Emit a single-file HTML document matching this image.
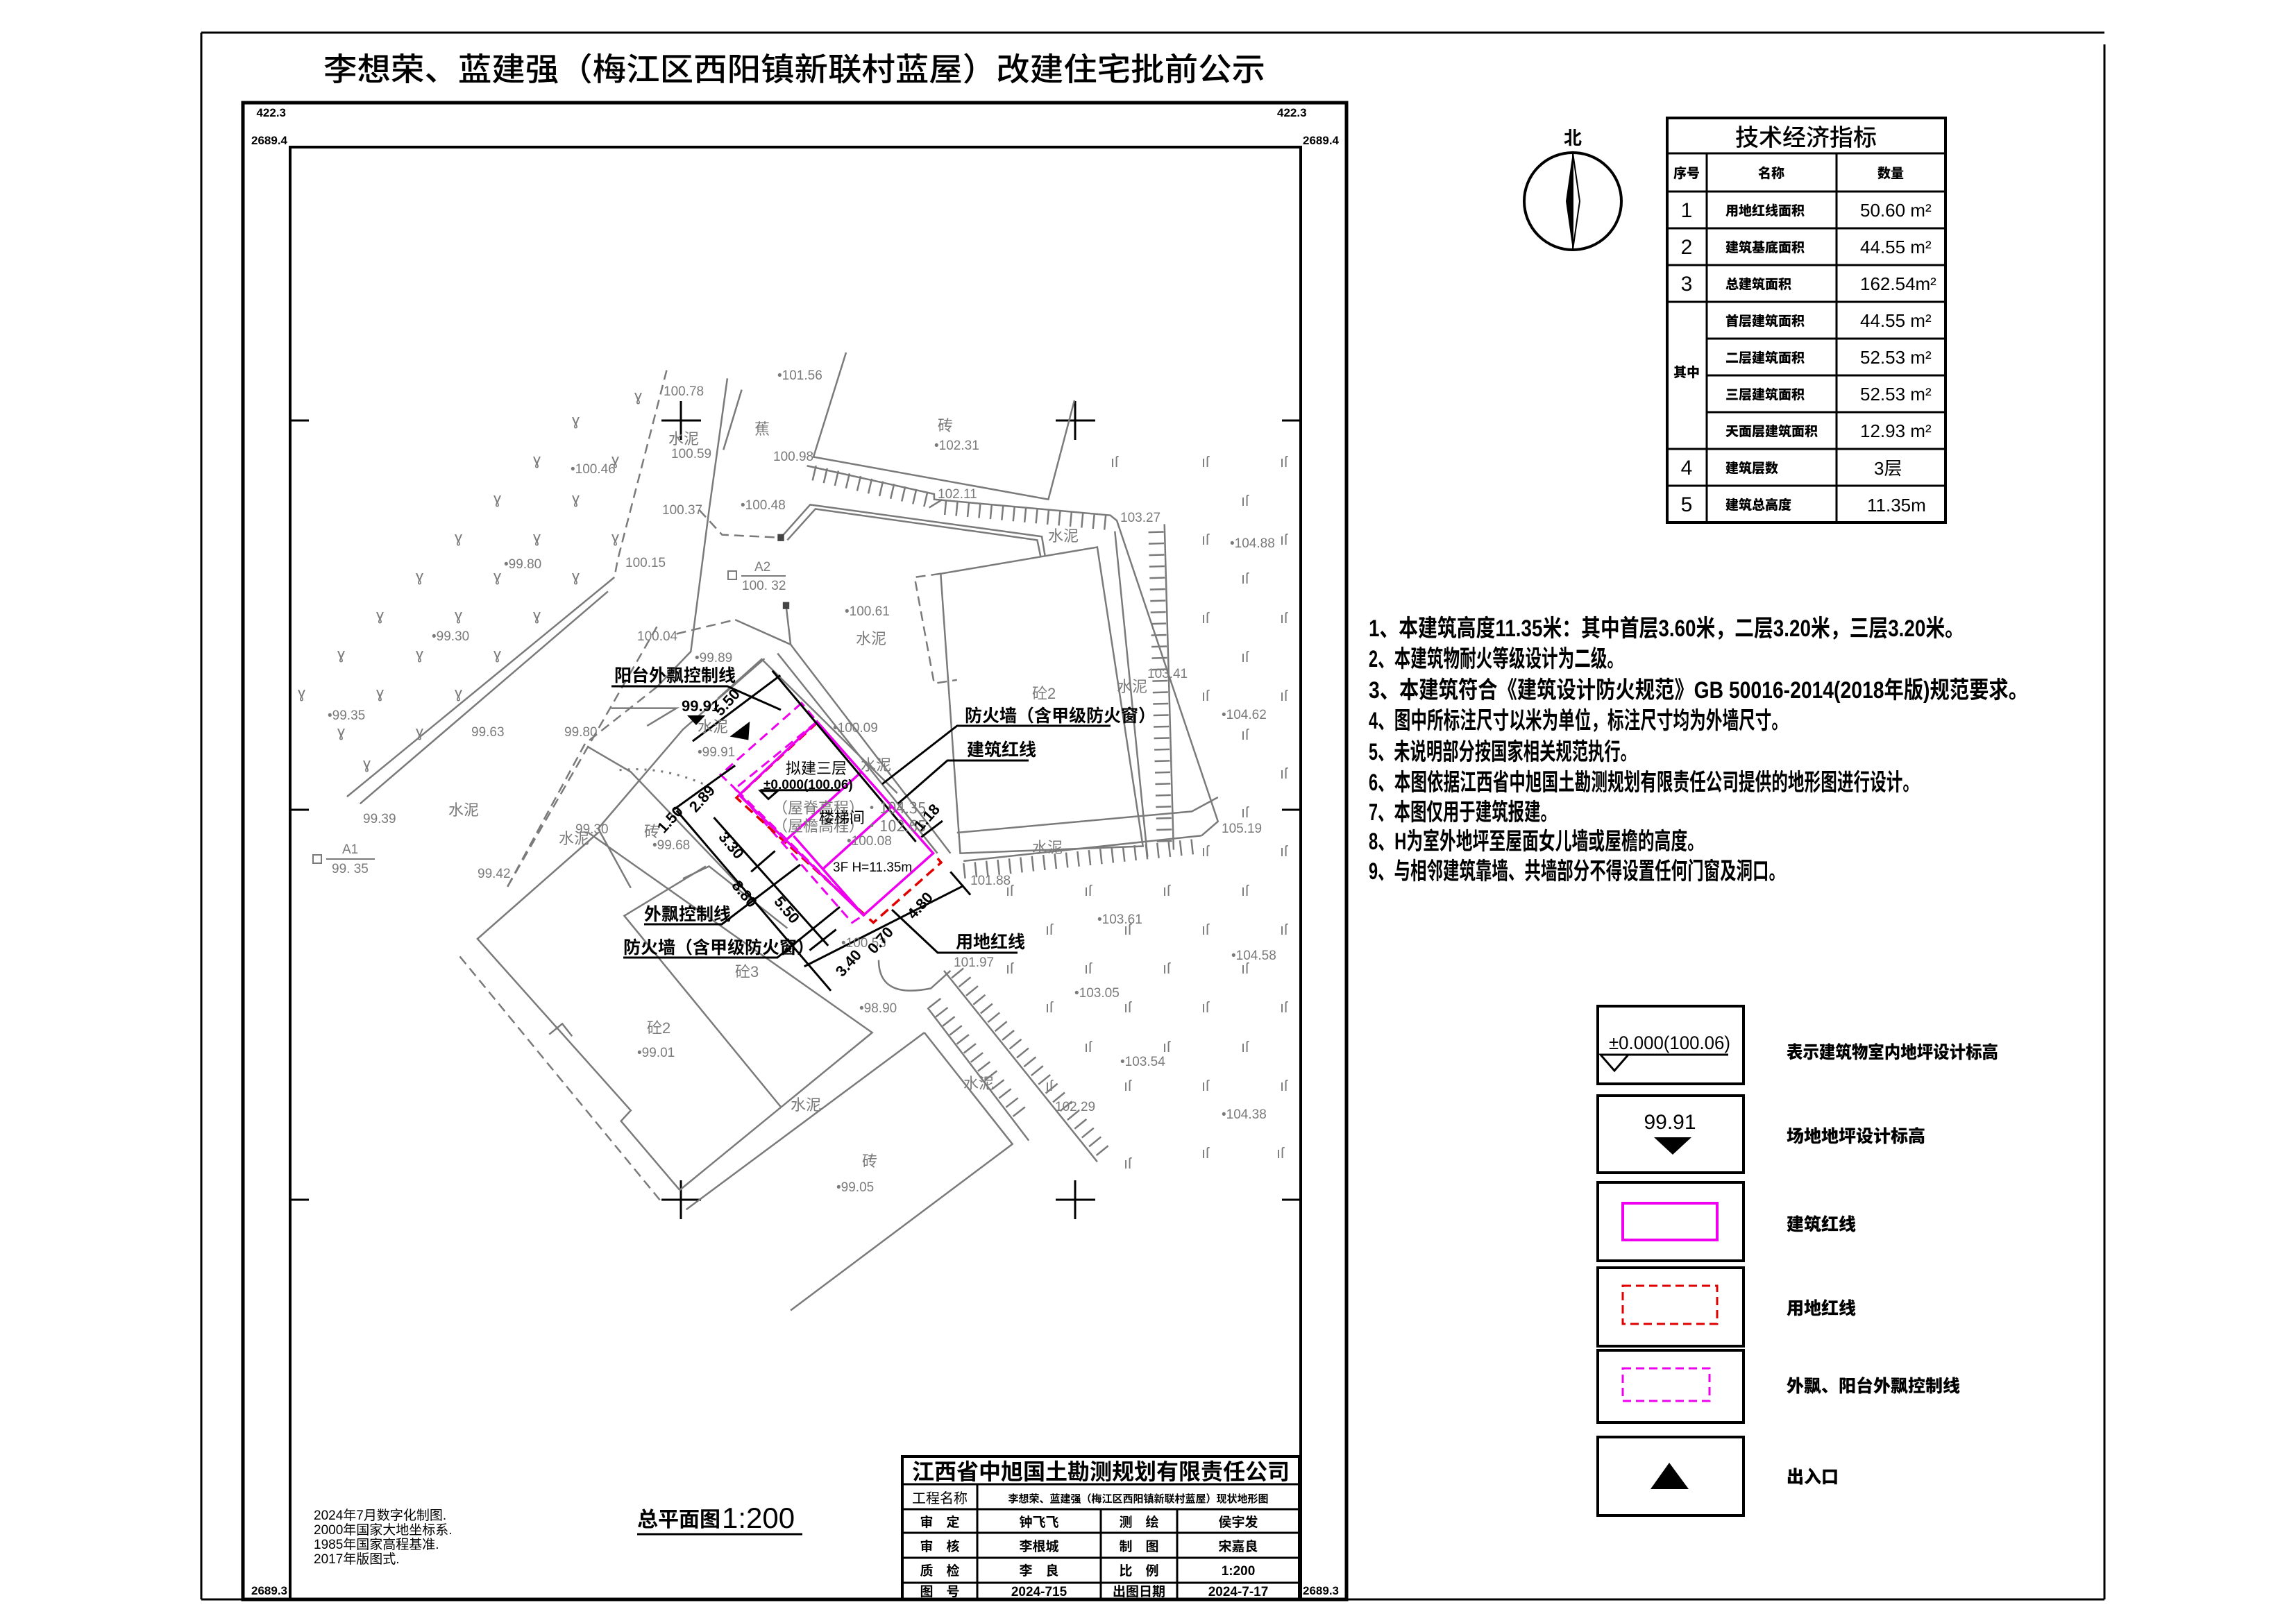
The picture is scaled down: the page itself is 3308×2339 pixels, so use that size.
<!DOCTYPE html>
<html><head><meta charset="utf-8"><style>
html,body{margin:0;padding:0;background:#fff;}
svg{display:block;}
text{font-family:"Liberation Sans","Noto Sans CJK SC",sans-serif;}
.g{fill:#7a7a7a;font-size:19px;}
.gc{fill:#7a7a7a;font-size:22px;font-family:"Noto Sans CJK SC",sans-serif;}
.v{fill:#7a7a7a;font-size:22px;}
.b{fill:#000;font-weight:700;}
.ln{fill:none;stroke:#7a7a7a;stroke-width:2.5;vector-effect:non-scaling-stroke;}
.dl{fill:none;stroke:#7a7a7a;stroke-width:2.5;stroke-dasharray:14 8;vector-effect:non-scaling-stroke;}
.tk{fill:none;stroke:#7a7a7a;stroke-width:22;stroke-dasharray:2.5 14;vector-effect:non-scaling-stroke;}
.bk{fill:none;stroke:#000;stroke-width:3;vector-effect:non-scaling-stroke;}
</style></head><body>
<svg width="3308" height="2339" viewBox="0 0 3308 2339" xmlns="http://www.w3.org/2000/svg">
<rect width="3308" height="2339" fill="#fff"/>
<g stroke="#000" stroke-width="3" fill="none">
<line x1="290" y1="47" x2="3032" y2="47"/>
<line x1="290" y1="47" x2="290" y2="2305"/>
<line x1="290" y1="2305" x2="3032" y2="2305"/>
<line x1="3032" y1="64" x2="3032" y2="2305"/>
</g>
<text x="466" y="116" font-size="46" textLength="1357" lengthAdjust="spacingAndGlyphs" font-family="'Noto Sans CJK SC',sans-serif" font-weight="500">李想荣、蓝建强（梅江区西阳镇新联村蓝屋）改建住宅批前公示</text>
<g stroke="#000" fill="none">
<rect x="350" y="148" width="1590" height="2157" stroke-width="5"/>
<rect x="418" y="212" width="1456" height="2093" stroke-width="4"/>
</g>
<g font-size="17" font-weight="700" fill="#000">
<text x="412" y="168" text-anchor="end">422.3</text>
<text x="414" y="208" text-anchor="end">2689.4</text>
<text x="1840" y="168">422.3</text>
<text x="1877" y="208">2689.4</text>
<text x="414" y="2298" text-anchor="end">2689.3</text>
<text x="1877" y="2298">2689.3</text>
</g>
<g stroke="#000" stroke-width="3">
<line x1="418" y1="606" x2="445" y2="606"/><line x1="418" y1="1167" x2="445" y2="1167"/><line x1="418" y1="1729" x2="445" y2="1729"/>
<line x1="1847" y1="606" x2="1874" y2="606"/><line x1="1847" y1="1167" x2="1874" y2="1167"/><line x1="1847" y1="1729" x2="1874" y2="1729"/>
<line x1="953" y1="606" x2="1010" y2="606"/><line x1="981" y1="578" x2="981" y2="634"/>
<line x1="1521" y1="606" x2="1578" y2="606"/><line x1="1549" y1="578" x2="1549" y2="634"/>
<line x1="953" y1="1729" x2="1010" y2="1729"/><line x1="981" y1="1701" x2="981" y2="1757"/>
<line x1="1521" y1="1729" x2="1578" y2="1729"/><line x1="1549" y1="1701" x2="1549" y2="1757"/>
</g>

<g transform="translate(420,480) scale(0.94,0.51)">
<polyline class="dl" points="575,105 500,640 495,690"/>
<polyline class="ln" points="668,128 640,500 612,900 560,1000"/>
<polyline class="ln" points="690,160 662,330"/>
<polyline class="ln" points="850,55 800,350 1160,470 1200,190"/>
<polyline class="ln" points="790,375 985,455 985,470 1255,515 1265,530 1420,1380 1395,1420"/>
<polyline class="tk" points="800,395 985,475 990,490 1250,535"/>
<polyline class="ln" points="750,578 795,485 1150,575 1155,630"/>
<polyline class="ln" points="760,585 803,497 1143,585 1148,630"/>
<polyline class="dl" points="625,500 660,570 750,578"/>
<polygon class="ln" points="995,680 1235,605 1305,1450 1025,1470"/>
<polyline class="dl" points="995,680 955,690 985,990 1020,980"/>
<polyline class="ln" points="1262,560 1312,1480"/>
<polyline class="ln" points="1030,1492 1395,1420"/>
<polyline class="tk" points="1030,1520 1390,1450"/>
<polyline class="ln" points="1338,540 1352,1460"/>
<polyline class="tk" points="1325,560 1338,1440"/>
<polyline class="ln" points="495,690 85,1310"/>
<polyline class="ln" points="485,730 105,1330"/>
<polyline class="dl" points="560,830 330,1568"/>
<polyline class="ln" points="758,770 765,880"/>
<polyline class="dl" points="590,850 680,810"/>
<polyline class="ln" points="680,810 765,880 1010,1470"/>
<polyline class="ln" points="745,905 990,1470"/>
<polyline class="ln" points="455,1170 520,1240 690,1568"/>
<polyline class="dl" points="560,1000 450,1160 330,1568"/>
<polyline class="ln" points="490,1060 590,1060 545,1110"/>
<polyline class="ln" points="725,920 600,1120 470,1400 520,1568"/>
<rect x="745" y="568" width="10" height="20" fill="#444"/>
<rect x="753" y="760" width="10" height="20" fill="#444"/>
</g>
<g transform="translate(420,1200) scale(0.94,0.51)">
<polyline class="ln" points="455,0 890,565 595,1010"/>
<polyline class="ln" points="970,565 605,1065"/>
<polyline class="ln" points="970,565 1105,880 765,1350"/>
<polyline class="ln" points="470,0 285,300 520,785 505,815 595,1010"/>
<polyline class="dl" points="258,350 570,1050"/>
<polyline class="ln" points="395,570 415,540 430,575"/>
<polyline class="ln" points="635,95 510,235 750,775"/>
<polyline class="ln" points="600,130 640,95 760,270"/>
<polyline class="ln" points="1000,390 1235,930"/>
<polyline class="tk" points="1020,395 1250,915"/>
<polyline class="ln" points="975,495 1130,870"/>
<polyline class="tk" points="985,480 1120,800"/>
<path class="ln" d="M900,360 Q900,470 980,440 L1010,390"/>
<polyline class="ln" points="1020,0 1380,-60 1420,-100"/>
</g>
<g transform="translate(860,930) scale(0.383,0.333)">
<polyline class="ln" points="455,230 620,60 1130,640"/>
<path d="M85,540 Q250,520 420,610" fill="none" stroke="#7a7a7a" stroke-width="3" stroke-dasharray="3 9" vector-effect="non-scaling-stroke"/>
<polygon points="770,250 465,560 515,615 960,1200 1003,1168 520,620 828,330" fill="none" stroke="#ee00ee" stroke-width="3" stroke-dasharray="14 8" vector-effect="non-scaling-stroke"/>
<polyline points="828,335 525,660 1040,1200 1295,940 1265,900" fill="none" stroke="#e00000" stroke-width="3.5" stroke-dasharray="14 8" vector-effect="non-scaling-stroke"/>
<polygon points="828,330 1265,900 1003,1168 535,648" fill="none" stroke="#ee00ee" stroke-width="3.5" vector-effect="non-scaling-stroke"/>
<g fill="none" stroke="#ee00ee" stroke-width="3.5">
<line x1="995" y1="548" x2="700" y2="855" vector-effect="non-scaling-stroke"/>
<line x1="1108" y1="700" x2="850" y2="968" vector-effect="non-scaling-stroke"/>
<line x1="740" y1="825" x2="1003" y2="1168" vector-effect="non-scaling-stroke"/>
</g>
<polygon points="500,395 575,330 570,410" fill="#000"/>
<polyline class="bk" points="360,415 690,130"/>
<polyline class="bk" points="660,110 1200,850"/>
<polyline class="bk" points="290,710 520,520"/>
<polyline class="bk" points="300,715 880,1495"/>
<polyline class="bk" points="440,745 870,1300"/>
<polyline class="bk" points="780,1390 1380,1040"/>
<polyline class="bk" points="1220,830 1300,760"/>
<polyline class="bk" points="1330,980 1405,1080"/>
<polyline class="bk" points="580,980 670,890"/>
<polyline class="bk" points="800,1320 900,1230"/>
<polygon points="615,630 680,630 645,665" fill="none" stroke="#000" stroke-width="3" vector-effect="non-scaling-stroke"/>
<line x1="615" y1="627" x2="915" y2="627" stroke="#000" stroke-width="3" vector-effect="non-scaling-stroke"/>
</g>
<g stroke="#000" stroke-width="3" fill="none">
<polyline points="881,989 1048,989 1125,1023"/>
<polyline points="1600,1046 1379,1046 1271,1130"/>
<polyline points="1482,1096 1365,1096 1294,1158"/>
<polyline points="928,1332 1040,1332 1153,1246"/>
<polyline points="898,1380 1120,1380 1210,1307"/>
<polyline points="1466,1373 1351,1373 1285,1311"/>
</g>
<g class="b" font-size="25" font-family="'Noto Sans CJK SC',sans-serif">
<text x="885" y="982">阳台外飘控制线</text>
<text x="1390" y="1040">防火墙（含甲级防火窗）</text>
<text x="1393" y="1089">建筑红线</text>
<text x="928" y="1326">外飘控制线</text>
<text x="898" y="1374">防火墙（含甲级防火窗）</text>
<text x="1377" y="1366">用地红线</text>
</g>
<text x="982" y="1025" font-size="22" class="b">99.91</text>
<polygon points="990,1031 1016,1031 1003,1045" fill="#000"/>
<g font-family="'Noto Sans CJK SC',sans-serif">
<text x="1132" y="1115" font-size="22">拟建三层</text>
<text x="1100" y="1137" font-size="19" font-weight="700">±0.000(100.06)</text>
<text x="1113" y="1172" class="gc" font-size="20">（屋脊高程）•104.35</text>
<text x="1113" y="1198" class="gc" font-size="20">（屋檐高程）•102.65</text>
<text x="1180" y="1186" font-size="22">楼梯间</text>
</g>
<text x="1220" y="1218" class="g">•100.08</text>
<text x="1200" y="1256" font-size="19" font-family="'Liberation Serif',serif">3F H=11.35m</text>
<text x="1200" y="1055" class="g">•100.09</text>
<text x="1005" y="1090" class="g">•99.91</text>
<text x="1212" y="1365" class="g">•100.53</text>
<g class="b" font-size="22">
<text transform="translate(1053,1017) rotate(-48)" text-anchor="middle">5.50</text>
<text transform="translate(1017,1156) rotate(-48)" text-anchor="middle">2.89</text>
<text transform="translate(971,1186) rotate(-48)" text-anchor="middle">1.50</text>
<text transform="translate(1048,1223) rotate(50)" text-anchor="middle">3.30</text>
<text transform="translate(1067,1293) rotate(50)" text-anchor="middle">8.80</text>
<text transform="translate(1128,1316) rotate(50)" text-anchor="middle">5.50</text>
<text transform="translate(1228,1393) rotate(-48)" text-anchor="middle">3.40</text>
<text transform="translate(1274,1360) rotate(-48)" text-anchor="middle">0.70</text>
<text transform="translate(1331,1310) rotate(-48)" text-anchor="middle">4.80</text>
<text transform="translate(1341,1183) rotate(-48)" text-anchor="middle">1.18</text>
</g>
<g class="g">
<text x="956" y="570">100.78</text><text x="1120" y="547">•101.56</text>
<text x="967" y="660">100.59</text><text x="1114" y="664">100.98</text>
<text x="1346" y="648">•102.31</text><text x="822" y="682">•100.46</text>
<text x="1351" y="718">102.11</text><text x="954" y="741">100.37</text>
<text x="1067" y="734">•100.48</text><text x="1614" y="752">103.27</text>
<text x="1772" y="789">•104.88</text><text x="726" y="819">•99.80</text>
<text x="901" y="817">100.15</text><text x="1217" y="887">•100.61</text>
<text x="622" y="923">•99.30</text><text x="918" y="923">100.04</text>
<text x="1001" y="954">•99.89</text><text x="1653" y="977">103.41</text>
<text x="472" y="1037">•99.35</text><text x="679" y="1061">99.63</text>
<text x="813" y="1061">99.80</text><text x="1760" y="1036">•104.62</text>
<text x="523" y="1186">99.39</text><text x="688" y="1265">99.42</text>
<text x="940" y="1224">•99.68</text><text x="829" y="1201">99.30</text>
<text x="1760" y="1200">105.19</text><text x="1398" y="1275">101.88</text>
<text x="1581" y="1331">•103.61</text><text x="1774" y="1383">•104.58</text>
<text x="1374" y="1393">101.97</text><text x="1548" y="1437">•103.05</text>
<text x="1238" y="1459">•98.90</text><text x="918" y="1523">•99.01</text>
<text x="1614" y="1536">•103.54</text><text x="1520" y="1601">102.29</text>
<text x="1760" y="1612">•104.38</text><text x="1205" y="1717">•99.05</text>
</g>
<g class="gc">
<text x="963" y="640">水泥</text><text x="1087" y="626">蕉</text><text x="1351" y="621">砖</text>
<text x="1510" y="780">水泥</text><text x="1233" y="928">水泥</text><text x="1609" y="997">水泥</text>
<text x="1487" y="1007">砼2</text><text x="646" y="1175">水泥</text><text x="928" y="1206">砖</text>
<text x="805" y="1216">水泥</text><text x="1487" y="1229">水泥</text><text x="1059" y="1408">砼3</text>
<text x="932" y="1489">砼2</text><text x="1388" y="1569">水泥</text><text x="1139" y="1600">水泥</text>
<text x="1242" y="1681">砖</text><text x="1005" y="1055">水泥</text><text x="1240" y="1110">水泥</text>
</g>
<g fill="#7a7a7a" font-size="19" font-family="'Liberation Serif',serif">
<rect x="451" y="1232" width="12" height="12" fill="none" stroke="#7a7a7a" stroke-width="2"/>
<line x1="470" y1="1238" x2="540" y2="1238" stroke="#7a7a7a" stroke-width="2"/>
<text x="493" y="1230">A1</text><text x="478" y="1258">99. 35</text>
<rect x="1049" y="823" width="12" height="12" fill="none" stroke="#7a7a7a" stroke-width="2"/>
<line x1="1068" y1="830" x2="1132" y2="830" stroke="#7a7a7a" stroke-width="2"/>
<text x="1087" y="823">A2</text><text x="1069" y="850">100. 32</text>
</g>
<g class="v">
<text x="1600" y="673">ıſ</text><text x="1731" y="673">ıſ</text><text x="1844" y="673">ıſ</text><text x="1788" y="729">ıſ</text>
<text x="1731" y="785">ıſ</text><text x="1844" y="785">ıſ</text><text x="1788" y="841">ıſ</text><text x="1731" y="898">ıſ</text>
<text x="1844" y="898">ıſ</text><text x="1788" y="954">ıſ</text><text x="1731" y="1010">ıſ</text><text x="1844" y="1010">ıſ</text>
<text x="1788" y="1066">ıſ</text><text x="1844" y="1122">ıſ</text><text x="1788" y="1178">ıſ</text><text x="1731" y="1234">ıſ</text><text x="1844" y="1234">ıſ</text>
<text x="1449" y="1291">ıſ</text><text x="1562" y="1291">ıſ</text><text x="1675" y="1291">ıſ</text><text x="1788" y="1291">ıſ</text>
<text x="1506" y="1347">ıſ</text><text x="1619" y="1347">ıſ</text><text x="1731" y="1347">ıſ</text><text x="1844" y="1347">ıſ</text>
<text x="1449" y="1403">ıſ</text><text x="1562" y="1403">ıſ</text><text x="1675" y="1403">ıſ</text><text x="1788" y="1403">ıſ</text>
<text x="1506" y="1459">ıſ</text><text x="1619" y="1459">ıſ</text><text x="1731" y="1459">ıſ</text><text x="1844" y="1459">ıſ</text>
<text x="1562" y="1516">ıſ</text><text x="1675" y="1516">ıſ</text><text x="1788" y="1516">ıſ</text>
<text x="1506" y="1572">ıſ</text><text x="1619" y="1572">ıſ</text><text x="1731" y="1572">ıſ</text><text x="1844" y="1572">ıſ</text>
<text x="1619" y="1684">ıſ</text><text x="1731" y="1669">ıſ</text><text x="1839" y="1669">ıſ</text>
</g>
<g class="v" font-size="20">
<text x="914" y="578">ɣ</text><text x="824" y="613">ɣ</text><text x="768" y="670">ɣ</text><text x="881" y="670">ɣ</text>
<text x="711" y="726">ɣ</text><text x="824" y="726">ɣ</text><text x="655" y="782">ɣ</text><text x="768" y="782">ɣ</text><text x="881" y="782">ɣ</text>
<text x="599" y="838">ɣ</text><text x="711" y="838">ɣ</text><text x="824" y="838">ɣ</text>
<text x="542" y="894">ɣ</text><text x="655" y="894">ɣ</text><text x="768" y="894">ɣ</text>
<text x="486" y="950">ɣ</text><text x="599" y="950">ɣ</text><text x="711" y="950">ɣ</text>
<text x="429" y="1006">ɣ</text><text x="542" y="1006">ɣ</text><text x="655" y="1006">ɣ</text>
<text x="486" y="1062">ɣ</text><text x="599" y="1062">ɣ</text><text x="523" y="1108">ɣ</text>
</g>
<text x="918" y="2200" font-size="30" font-weight="700" font-family="'Noto Sans CJK SC',sans-serif">总平面图</text>
<text x="1040" y="2202" font-size="42">1:200</text>
<line x1="918" y1="2211" x2="1156" y2="2211" stroke="#000" stroke-width="3"/>
<g font-size="19" font-family="'Liberation Serif','Noto Serif CJK SC',serif">
<text x="452" y="2190">2024年7月数字化制图.</text>
<text x="452" y="2211">2000年国家大地坐标系.</text>
<text x="452" y="2232">1985年国家高程基准.</text>
<text x="452" y="2253">2017年版图式.</text>
</g>
<g stroke="#000" stroke-width="3" fill="none">
<rect x="1300" y="2099" width="572" height="206" stroke-width="4"/>
<line x1="1300" y1="2139" x2="1872" y2="2139"/>
<line x1="1300" y1="2175" x2="1872" y2="2175"/>
<line x1="1300" y1="2209" x2="1872" y2="2209"/>
<line x1="1300" y1="2245" x2="1872" y2="2245"/>
<line x1="1300" y1="2281" x2="1872" y2="2281"/>
<line x1="1408" y1="2139" x2="1408" y2="2305"/>
<line x1="1586" y1="2175" x2="1586" y2="2305"/>
<line x1="1696" y1="2175" x2="1696" y2="2305"/>
</g>
<g font-family="'Noto Sans CJK SC',sans-serif" text-anchor="middle">
<text x="1586" y="2132" font-size="32" font-weight="700">江西省中旭国土勘测规划有限责任公司</text>
<text x="1354" y="2166" font-size="20">工程名称</text>
<text x="1640" y="2165" font-size="15" font-weight="700">李想荣、蓝建强（梅江区西阳镇新联村蓝屋）现状地形图</text>
<g font-size="19" font-weight="700">
<text x="1354" y="2200">审　定</text><text x="1497" y="2200">钟飞飞</text><text x="1641" y="2200">测　绘</text><text x="1784" y="2200">侯宇发</text>
<text x="1354" y="2235">审　核</text><text x="1497" y="2235">李根城</text><text x="1641" y="2235">制　图</text><text x="1784" y="2235">宋嘉良</text>
<text x="1354" y="2270">质　检</text><text x="1497" y="2270">李　良</text><text x="1641" y="2270">比　例</text><text x="1784" y="2270" font-family="'Liberation Serif',serif">1:200</text>
<text x="1354" y="2300">图　号</text><text x="1497" y="2300" font-family="'Liberation Serif',serif">2024-715</text><text x="1641" y="2300">出图日期</text><text x="1784" y="2300" font-family="'Liberation Serif',serif">2024-7-17</text>
</g>
</g>
<circle cx="2266" cy="290" r="70" fill="none" stroke="#000" stroke-width="4"/>
<polygon points="2266,220 2256,290 2266,360" fill="#000"/>
<polygon points="2266,220 2276,290 2266,360" fill="none" stroke="#000" stroke-width="2"/>
<text x="2266" y="208" font-size="26" font-weight="700" text-anchor="middle" font-family="'Noto Sans CJK SC',sans-serif">北</text>
<g stroke="#000" stroke-width="3" fill="none">
<rect x="2402" y="170" width="401" height="583" stroke-width="4"/>
<line x1="2402" y1="221" x2="2803" y2="221"/>
<line x1="2402" y1="276" x2="2803" y2="276"/>
<line x1="2402" y1="329" x2="2803" y2="329"/>
<line x1="2402" y1="382" x2="2803" y2="382"/>
<line x1="2402" y1="435" x2="2803" y2="435"/>
<line x1="2459" y1="488" x2="2803" y2="488"/>
<line x1="2459" y1="541" x2="2803" y2="541"/>
<line x1="2459" y1="594" x2="2803" y2="594"/>
<line x1="2402" y1="647" x2="2803" y2="647"/>
<line x1="2402" y1="700" x2="2803" y2="700"/>
<line x1="2459" y1="221" x2="2459" y2="753"/>
<line x1="2646" y1="221" x2="2646" y2="753"/>
</g>
<g font-family="'Noto Sans CJK SC',sans-serif">
<text x="2602" y="210" font-size="34" text-anchor="middle" font-weight="500">技术经济指标</text>
<g font-size="19" font-weight="900" text-anchor="middle">
<text x="2430" y="256">序号</text><text x="2552" y="256">名称</text><text x="2724" y="256">数量</text>
<text x="2430" y="543">其中</text>
</g>
<g font-size="19" font-weight="900">
<text x="2486" y="310">用地红线面积</text><text x="2486" y="363">建筑基底面积</text><text x="2486" y="416">总建筑面积</text>
<text x="2486" y="469">首层建筑面积</text><text x="2486" y="522">二层建筑面积</text><text x="2486" y="575">三层建筑面积</text>
<text x="2486" y="628">天面层建筑面积</text><text x="2486" y="681">建筑层数</text><text x="2486" y="734">建筑总高度</text>
</g>
</g>
<g font-size="30" text-anchor="middle">
<text x="2430" y="313">1</text><text x="2430" y="366">2</text><text x="2430" y="419">3</text><text x="2430" y="684">4</text><text x="2430" y="737">5</text>
</g>
<g font-size="26">
<text x="2680" y="312">50.60 m²</text><text x="2680" y="365">44.55 m²</text><text x="2680" y="418">162.54m²</text>
<text x="2680" y="471">44.55 m²</text><text x="2680" y="524">52.53 m²</text><text x="2680" y="577">52.53 m²</text>
<text x="2680" y="630">12.93 m²</text><text x="2700" y="684" font-family="'Noto Sans CJK SC',sans-serif">3层</text><text x="2690" y="737">11.35m</text>
</g>
<g font-size="34" font-family="'Liberation Sans','Noto Sans CJK SC',sans-serif" font-weight="700" lengthAdjust="spacingAndGlyphs">
<text x="1972" y="917" textLength="858" lengthAdjust="spacingAndGlyphs">1、本建筑高度11.35米：其中首层3.60米，二层3.20米，三层3.20米。</text>
<text x="1972" y="961" textLength="367" lengthAdjust="spacingAndGlyphs">2、本建筑物耐火等级设计为二级。</text>
<text x="1972" y="1006" textLength="950" lengthAdjust="spacingAndGlyphs">3、本建筑符合《建筑设计防火规范》GB 50016-2014(2018年版)规范要求。</text>
<text x="1972" y="1050" textLength="604" lengthAdjust="spacingAndGlyphs">4、图中所标注尺寸以米为单位，标注尺寸均为外墙尺寸。</text>
<text x="1972" y="1095" textLength="386" lengthAdjust="spacingAndGlyphs">5、未说明部分按国家相关规范执行。</text>
<text x="1972" y="1139" textLength="793" lengthAdjust="spacingAndGlyphs">6、本图依据江西省中旭国土勘测规划有限责任公司提供的地形图进行设计。</text>
<text x="1972" y="1182" textLength="271" lengthAdjust="spacingAndGlyphs">7、本图仅用于建筑报建。</text>
<text x="1972" y="1224" textLength="483" lengthAdjust="spacingAndGlyphs">8、H为室外地坪至屋面女儿墙或屋檐的高度。</text>
<text x="1972" y="1267" textLength="600" lengthAdjust="spacingAndGlyphs">9、与相邻建筑靠墙、共墙部分不得设置任何门窗及洞口。</text>
</g>
<g stroke="#000" stroke-width="4" fill="none">
<rect x="2302" y="1450" width="210" height="112"/>
<rect x="2302" y="1579" width="210" height="111"/>
<rect x="2302" y="1704" width="210" height="113"/>
<rect x="2302" y="1827" width="210" height="113"/>
<rect x="2302" y="1946" width="210" height="104"/>
<rect x="2302" y="2071" width="210" height="113"/>
</g>
<text x="2318" y="1512" font-size="27" textLength="175" lengthAdjust="spacingAndGlyphs">±0.000(100.06)</text>
<line x1="2306" y1="1520" x2="2490" y2="1520" stroke="#000" stroke-width="3"/>
<polygon points="2306,1520 2346,1520 2326,1543" fill="none" stroke="#000" stroke-width="3"/>
<text x="2406" y="1627" font-size="30" text-anchor="middle">99.91</text>
<polygon points="2383,1639 2437,1639 2410,1664" fill="#000"/>
<rect x="2338" y="1734" width="136" height="53" fill="none" stroke="#ee00ee" stroke-width="4"/>
<rect x="2338" y="1853" width="136" height="55" fill="none" stroke="#e00000" stroke-width="3" stroke-dasharray="12 7"/>
<rect x="2338" y="1972" width="125" height="47" fill="none" stroke="#ee00ee" stroke-width="3" stroke-dasharray="12 7"/>
<polygon points="2378,2146 2433,2146 2405,2108" fill="#000"/>
<g font-size="25" font-weight="900" font-family="'Noto Sans CJK SC',sans-serif">
<text x="2574" y="1525" textLength="305" lengthAdjust="spacingAndGlyphs">表示建筑物室内地坪设计标高</text>
<text x="2574" y="1646">场地地坪设计标高</text>
<text x="2574" y="1773">建筑红线</text>
<text x="2574" y="1894">用地红线</text>
<text x="2574" y="2006">外飘、阳台外飘控制线</text>
<text x="2574" y="2137">出入口</text>
</g>
</svg>
</body></html>
